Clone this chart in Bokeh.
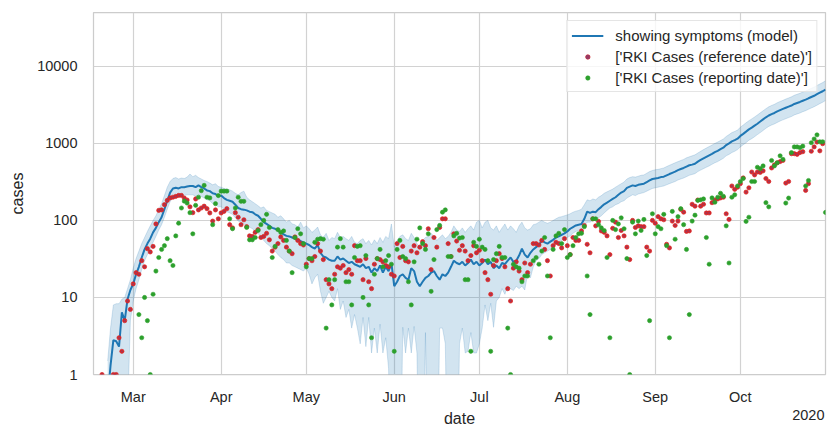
import numpy as np
import pandas as pd
from bokeh.plotting import figure
from bokeh.models import (ColumnDataSource, Legend, LegendItem, Title, FixedTicker,
                          MonthsTicker, DatetimeTickFormatter, PrintfTickFormatter, Range1d)
from bokeh.embed import file_html
from bokeh.resources import INLINE

N = None
# daily values, one row per week (Sunday..Saturday), first day 2020-02-16
start_date = "2020-02-16"

model_rows = [
    [N, N, N, N, N, 0.5, 1.3],
    [2.8, 2.7, 2.3, 6.4, 5.0, 9.5, 12.5],
    [15, 20, 25, 33, 42, 50, 58],
    [70, 80, 95, 110, 140, 180, 230],
    [260, 265, 260, 270, 270, 275, 280],
    [280, 270, 285, 270, 260, 245, 240],
    [225, 220, 205, 210, 195, 185, 180],
    [175, 160, 145, 140, 138, 135, 130],
    [128, 120, 115, 105, 95, 90, 85],
    [80, 78, 74, 70, 66, 63, 62],
    [60, 58, 56, 54, 52, 50, 48],
    [45, 43, 48, 38, 34, 33, 31],
    [30, 30, 34, 31, 32, 30, 28],
    [29, 27, 26, 25, 27, 24, 25],
    [21, 24, 22, 26, 21, 25, 22],
    [28, 14, 16, 19, 20, 18, 17],
    [24, 22, 16, 14, 16, 18, 19],
    [21, 22, 19, 17, 20, 19, 21],
    [25, 30, 28, 27, 29, 26, 28],
    [31, 27, 29, 26, 28, 31, 27],
    [29, 24, 26, 24, 28, 27, 30],
    [33, 29, 30, 35, 43, 36, 33],
    [38, 42, 45, 48, 55, 52, 50],
    [53, 56, 60, 62, 65, 68, 72],
    [78, 82, 86, 88, 90, 105, 130],
    [125, 130, 128, 140, 150, 162, 170],
    [180, 190, 200, 215, 230, 240, 265],
    [275, 285, 280, 290, 295, 300, 315],
    [330, 345, 350, 355, 365, 370, 385],
    [400, 415, 430, 450, 465, 480, 500],
    [520, 530, 545, 580, 610, 640, 670],
    [700, 730, 770, 800, 840, 880, 950],
    [1000, 1060, 1100, 1150, 1250, 1330, 1420],
    [1520, 1600, 1700, 1800, 1920, 2050, 2180],
    [2300, 2400, 2480, 2600, 2700, 2800, 2900],
    [3000, 3100, 3250, 3350, 3450, 3580, 3700],
    [3850, 4000, 4150, 4350, 4550, 4750, 5000],
]

upper_rows = [
    [N, N, N, N, N, 1.5, 4],
    [8, 8.3, 8.3, 9.5, 10, 13, 17],
    [24, 32, 40, 50, 60, 72, 85],
    [100, 115, 140, 165, 210, 270, 320],
    [350, 360, 345, 355, 350, 365, 400],
    [370, 385, 360, 345, 330, 320, 305],
    [290, 300, 275, 270, 260, 255, 250],
    [240, 225, 215, 230, 240, 200, 185],
    [175, 165, 155, 145, 150, 135, 130],
    [125, 120, 110, 115, 105, 95, 100],
    [90, 88, 82, 95, 80, 85, 78],
    [70, 75, 82, 65, 60, 68, 55],
    [60, 58, 70, 60, 62, 58, 55],
    [62, 52, 50, 55, 58, 50, 55],
    [48, 56, 50, 60, 52, 62, 58],
    [90, 45, 55, 62, 65, 58, 55],
    [68, 60, 50, 45, 55, 60, 62],
    [68, 62, 55, 60, 65, 58, 62],
    [70, 85, 75, 72, 80, 70, 78],
    [85, 75, 95, 100, 80, 95, 100],
    [80, 75, 85, 70, 80, 90, 75],
    [85, 78, 70, 85, 95, 80, 75],
    [78, 88, 90, 95, 100, 95, 92],
    [95, 100, 105, 110, 112, 115, 118],
    [122, 128, 132, 135, 140, 160, 185],
    [180, 190, 185, 200, 210, 225, 235],
    [245, 255, 270, 285, 300, 315, 345],
    [360, 370, 365, 375, 385, 390, 410],
    [430, 445, 455, 460, 470, 480, 500],
    [520, 540, 560, 580, 600, 620, 650],
    [670, 690, 710, 750, 790, 830, 870],
    [910, 950, 1000, 1040, 1090, 1140, 1230],
    [1300, 1380, 1430, 1490, 1620, 1730, 1850],
    [1970, 2080, 2200, 2340, 2490, 2650, 2820],
    [2980, 3110, 3210, 3370, 3500, 3620, 3760],
    [3890, 4020, 4210, 4340, 4470, 4640, 4800],
    [4990, 5180, 5380, 5640, 5900, 6160, 6500],
]

lower_rows = [
    [N, N, N, N, N, 0.01, 0.01],
    [0.01, 0.01, 0.01, 0.01, 0.01, 0.3, 5],
    [9, 13, 17, 23, 30, 36, 43],
    [52, 62, 75, 88, 110, 140, 175],
    [200, 205, 205, 210, 210, 215, 215],
    [215, 205, 215, 205, 195, 185, 180],
    [165, 160, 150, 150, 140, 130, 125],
    [120, 108, 98, 95, 90, 85, 82],
    [78, 72, 68, 60, 55, 50, 47],
    [43, 40, 36, 33, 31, 28, 28],
    [26, 25, 24, 23, 22, 24, 20],
    [15, 18, 20, 12, 8.4, 10, 12],
    [10, 9, 13, 7, 9, 5.5, 7],
    [4, 6, 4, 2.5, 5.5, 2.3, 5.5],
    [1.9, 4, 1.9, 4.5, 1.9, 3, 1.2],
    [0.01, 0.01, 0.01, 0.01, 4.1, 1.9, 4],
    [1.9, 4.2, 1.9, 0.01, 0.01, 3.5, 0.01],
    [0.01, 0.01, 0.01, 4, 4, 2.5, 0.01],
    [0.01, 0.01, 0.01, 2.5, 4, 1.9, 2],
    [3.5, 1.9, 1.9, 2.5, 4, 8, 5],
    [8.4, 4.1, 9, 10, 13, 11, 14],
    [13, 12.3, 14, 13, 14, 12.5, 20],
    [18, 25, 30, 32, 36, 38, 40],
    [42, 45, 48, 52, 55, 58, 60],
    [63, 68, 72, 74, 78, 85, 95],
    [95, 100, 100, 108, 115, 125, 135],
    [145, 150, 160, 165, 175, 180, 195],
    [205, 215, 210, 220, 225, 230, 240],
    [250, 260, 265, 270, 275, 280, 290],
    [300, 310, 320, 335, 345, 355, 370],
    [385, 395, 405, 430, 450, 470, 490],
    [510, 535, 560, 580, 610, 640, 690],
    [720, 760, 790, 830, 900, 960, 1020],
    [1100, 1150, 1220, 1300, 1380, 1470, 1570],
    [1660, 1730, 1790, 1870, 1950, 2020, 2090],
    [2160, 2230, 2340, 2410, 2480, 2580, 2660],
    [2770, 2880, 2990, 3130, 3280, 3420, 3600],
]

ref_rows = [
    [N, N, N, 1, N, N, N],
    [1, 1, 3, 2, 5, 9, 7],
    [15, 21, 20, 30, 25, 43, 39],
    [46, 90, 135, 137, 160, 182, 196],
    [200, 205, 211, 211, 195, 184, 150],
    [126, 190, 137, 145, 153, 142, 125],
    [98, 137, 105, 125, 131, 142, 88],
    [80, 126, 110, 88, 102, 83, 63],
    [62, 70, 76, 60, 62, 68, 56],
    [40, 45, 50, 61, 55, 45, 40],
    [37, 61, 55, 50, 48, 27, 32],
    [30, 34, 50, 40, 31, 17, 15],
    [13, 20, 25, 24, 26, 21, 23],
    [20, 47, 30, 30, 17, 32, 16],
    [13, 27, 32, 31, 29, 26, 25],
    [20, 19, 50, 33, 46, 30, 29],
    [40, 47, 38, 45, 53, 47, 78],
    [23, 60, 45, 81, 105, 105, 50],
    [34, 67, 54, 41, 47, 40, 30],
    [35, 47, 38, 41, 30, 21, 17],
    [11, 26, 30, 37, 32, 25, 13],
    [9, 24, 29, 22, 17, 28, 21],
    [27, 50, 50, 48, 55, 42, 30],
    [19, 47, 52, 50, 44, 58, 47],
    [36, 60, 55, 55, 73, 86, 49],
    [38, 105, 85, 97, 73, 70, 63],
    [36, 79, 95, 60, 74, 63, 45],
    [31, 100, 81, 85, 83, 83, 45],
    [40, 100, 92, 112, 105, 102, 49],
    [44, 98, 86, 98, 139, 128, 72],
    [73, 162, 153, 184, 153, 162, 125],
    [125, 170, 184, 190, 196, 200, 122],
    [103, 280, 253, 270, 300, 356, 233],
    [265, 425, 390, 425, 420, 440, 350],
    [320, 480, 525, 560, 580, 600, 305],
    [320, 735, 735, 720, 760, 780, 245],
    [300, 790, 900, 1040, 800, 990, N],
]

rep_rows = [
    [N, N, N, N, N, N, N],
    [N, N, N, N, N, N, N],
    [N, N, 6, 3, 10, 5, 1],
    [11, 22, 33, 42, 47, 58, 30],
    [26, 63, 92, 145, 178, 168, 126],
    [67, 157, 200, 243, 285, 200, 196],
    [88, 165, 210, 240, 240, 240, 105],
    [78, 145, 200, 177, 177, 81, 56],
    [56, 60, 74, 88, 100, 120, 81],
    [33, 46, 76, 70, 73, 55, 40],
    [21, 60, 78, 67, 50, 25, 32],
    [32, 52, 57, 58, 57, 4, 17],
    [8, 17, 45, 58, 45, 16, 16],
    [8, 33, 46, 47, 10, 35, 8],
    [3, 20, 32, 42, 25, 30, 35],
    [27, 2, 42, 55, 34, 32, 16],
    [8, 29, 57, 80, 50, 42, 67],
    [12, 31, 76, 86, 128, 137, 34],
    [34, 63, 68, 59, 60, 17, 17],
    [2, 52, 46, 57, 45, 42, 30],
    [2, 31, 37, 46, 33, 33, 4],
    [1, 27, 25, 24, 16, 19, 19],
    [N, 30, 33, 27, 40, 60, 19],
    [3, 42, 63, 68, 50, 76, 33],
    [36, 47, 60, 67, 68, 83, 19],
    [6, 105, 105, 88, 80, 74, 33],
    [3, 100, 76, 90, 108, 78, 32],
    [1, 95, 67, 98, 74, 103, 35],
    [5, 122, 67, 83, 78, 120, 47],
    [3, 131, 57, 112, 142, 88, 42],
    [6, 98, 117, 182, 185, 190, 60],
    [27, 196, 172, 200, 225, 206, 85],
    [28, 200, 215, 280, 320, 350, 97],
    [110, 320, 320, 490, 470, 510, 170],
    [150, 600, 510, 560, 690, 620, 168],
    [195, 760, 900, 900, 880, 920, 280],
    [330, 1020, 1140, 1290, 1050, 1050, 127],
]

month_ticks = list(range(12))
y_ticks = [1, 10, 100, 1000, 10000]
x_start, x_end = "2020-02-16", "2020-10-31"
y_start, y_end = 1, 50000
year_text = "2020"


def flat(rows):
    return np.array([np.nan if v is None else float(v) for row in rows for v in row])


model = flat(model_rows)
upper = flat(upper_rows)
lower = flat(lower_rows)
ref = flat(ref_rows)
rep = flat(rep_rows)
dates = pd.date_range(start_date, periods=len(model), freq="D")

m = ~np.isnan(model)
src_model = ColumnDataSource(dict(x=dates[m], y=model[m], lo=lower[m], hi=upper[m]))
mr = ~np.isnan(ref)
src_ref = ColumnDataSource(dict(x=dates[mr], y=ref[mr]))
mg = ~np.isnan(rep)
src_rep = ColumnDataSource(dict(x=dates[mg], y=rep[mg]))

FONT = "Liberation Sans"
TXT = "#262626"

FRAME_W, FRAME_H = 732, 362
BL, BR, BT, BB = 93, 4, 12, 60

p = figure(width=BL + FRAME_W + BR, height=BT + FRAME_H + BB,
           x_axis_type="datetime", y_axis_type="log",
           x_range=Range1d(pd.Timestamp(x_start), pd.Timestamp(x_end)),
           y_range=Range1d(y_start, y_end),
           output_backend="svg", toolbar_location=None,
           min_border_left=BL, min_border_right=BR, min_border_top=BT, min_border_bottom=BB)
p.background_fill_color = "white"
p.border_fill_color = "white"
p.outline_line_color = "#cccccc"
p.outline_line_width = 1.25

band = p.varea(x="x", y1="lo", y2="hi", source=src_model, fill_color="#1f77b4", fill_alpha=0.2)
p.line(x="x", y="hi", source=src_model, line_color="#1f77b4", line_alpha=0.18, line_width=1)
p.line(x="x", y="lo", source=src_model, line_color="#1f77b4", line_alpha=0.18, line_width=1)
line_r = p.line(x="x", y="y", source=src_model, line_color="#1f77b4", line_width=2)
red_r = p.scatter(x="x", y="y", source=src_ref, size=4.2, fill_color="#d62728",
                  line_color="#d62728", line_width=0.7)
red_in = p.scatter(x="x", y="y", source=src_ref, size=1.8, fill_color="#8a3f72",
                   line_color=None, fill_alpha=0.8)
green_r = p.scatter(x="x", y="y", source=src_rep, size=4.2, fill_color="#2ca02c",
                    line_color="#2ca02c", line_width=0.6)

# axes
p.xaxis.ticker = MonthsTicker(months=month_ticks)
p.xaxis.formatter = DatetimeTickFormatter(months="%b", days="%b")
p.yaxis.ticker = FixedTicker(ticks=y_ticks)
p.yaxis.formatter = PrintfTickFormatter(format="%d")
for ax in (p.xaxis, p.yaxis):
    ax.axis_line_color = None
    ax.major_tick_line_color = None
    ax.minor_tick_line_color = None
    ax.major_tick_out = 0
    ax.major_tick_in = 0
    ax.major_label_text_font = FONT
    ax.major_label_text_font_size = "14.5px"
    ax.major_label_text_color = TXT
    ax.axis_label_text_font = FONT
    ax.axis_label_text_font_size = "16px"
    ax.axis_label_text_font_style = "normal"
    ax.axis_label_text_color = TXT
p.xaxis.axis_label = "date"
p.yaxis.axis_label = "cases"
p.yaxis.major_label_standoff = 16
p.yaxis.axis_label_standoff = 8
p.xaxis.major_label_standoff = 14
p.xaxis.axis_label_standoff = 2

p.xgrid.grid_line_color = "#d2d2d2"
p.ygrid.grid_line_color = "#d2d2d2"
p.xgrid.grid_line_width = 1.2
p.ygrid.grid_line_width = 1.2

legend = Legend(items=[
    LegendItem(label="showing symptoms (model)", renderers=[line_r]),
    LegendItem(label="['RKI Cases (reference date)']", renderers=[red_r, red_in]),
    LegendItem(label="['RKI Cases (reporting date)']", renderers=[green_r]),
], location="top_right")
legend.label_text_font = FONT
legend.label_text_font_size = "15px"
legend.label_text_color = TXT
legend.glyph_width = 32
legend.glyph_height = 11
legend.label_height = 20
legend.spacing = 1
legend.padding = 4
legend.margin = 8
legend.label_standoff = 12
legend.border_line_color = "#cccccc"
legend.border_line_width = 1
legend.background_fill_alpha = 0.8
p.add_layout(legend)

year_title = Title(text=year_text, align="right", vertical_align="top", standoff=-40, offset=1,
                   text_font=FONT, text_font_size="14.5px", text_font_style="normal",
                   text_color=TXT)
p.add_layout(year_title, "below")

open("out.html", "w").write(file_html(p, INLINE))
